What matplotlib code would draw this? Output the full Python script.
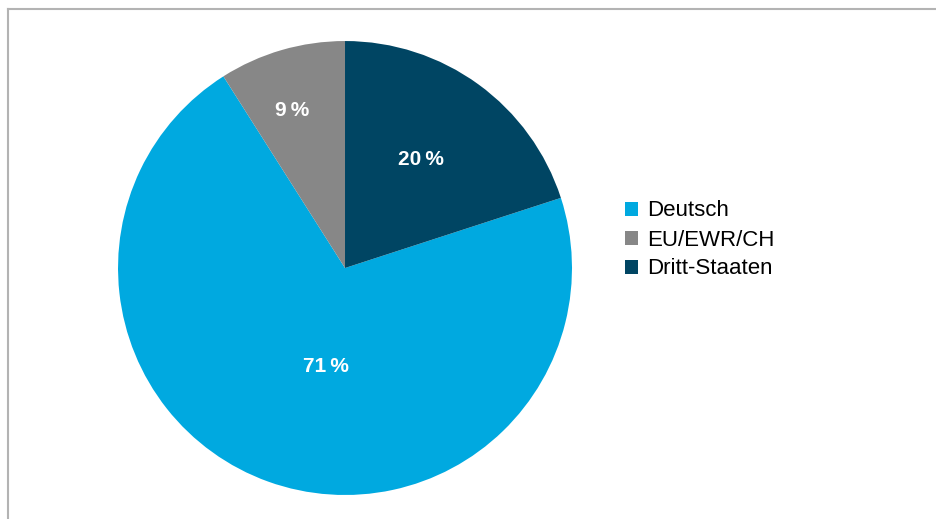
import matplotlib.pyplot as plt
from matplotlib.lines import Line2D

plt.rcParams['font.family'] = ['Liberation Sans', 'DejaVu Sans']

labels = ["Deutsch", "EU/EWR/CH", "Dritt-Staaten"]
shares = [71, 9, 20]
colors = ["#00A9E0", "#878787", "#004563"]
# label anchor points inside the pie (in pie-radius units)
label_pos = [(-0.084, -0.436), (-0.233, 0.696), (0.335, 0.476)]

fig = plt.figure(figsize=(9.36, 5.19), dpi=100)
ax = fig.add_axes([0.1261, 0.0462, 0.485, 0.8748])

wedges, texts, autotexts = ax.pie(
    shares, colors=colors, startangle=18, counterclock=False,
    autopct=lambda p: f"{p:.0f}\u2009%", radius=1,
    textprops=dict(color="white", fontsize=15, fontweight="bold"),
)
for t, pos in zip(autotexts, label_pos):
    t.set_position(pos)
ax.set_xlim(-1, 1)
ax.set_ylim(-1, 1)
ax.set_aspect("equal")

fig.legend(wedges, labels, loc="center left", bbox_to_anchor=(625 / 936, 1 - 240 / 519),
           frameon=False, fontsize=16, handlelength=0.59, handleheight=0.59,
           handletextpad=0.4, labelspacing=0.36, borderpad=0, borderaxespad=0)

# outer frame (only top and left visible)
fig.add_artist(Line2D([8 / 936, 1], [1 - 9 / 519] * 2, color="#b3b3b3", lw=1.5))
fig.add_artist(Line2D([8 / 936] * 2, [0, 1 - 9 / 519], color="#b3b3b3", lw=1.5))

fig.savefig("out.png", dpi=100)
